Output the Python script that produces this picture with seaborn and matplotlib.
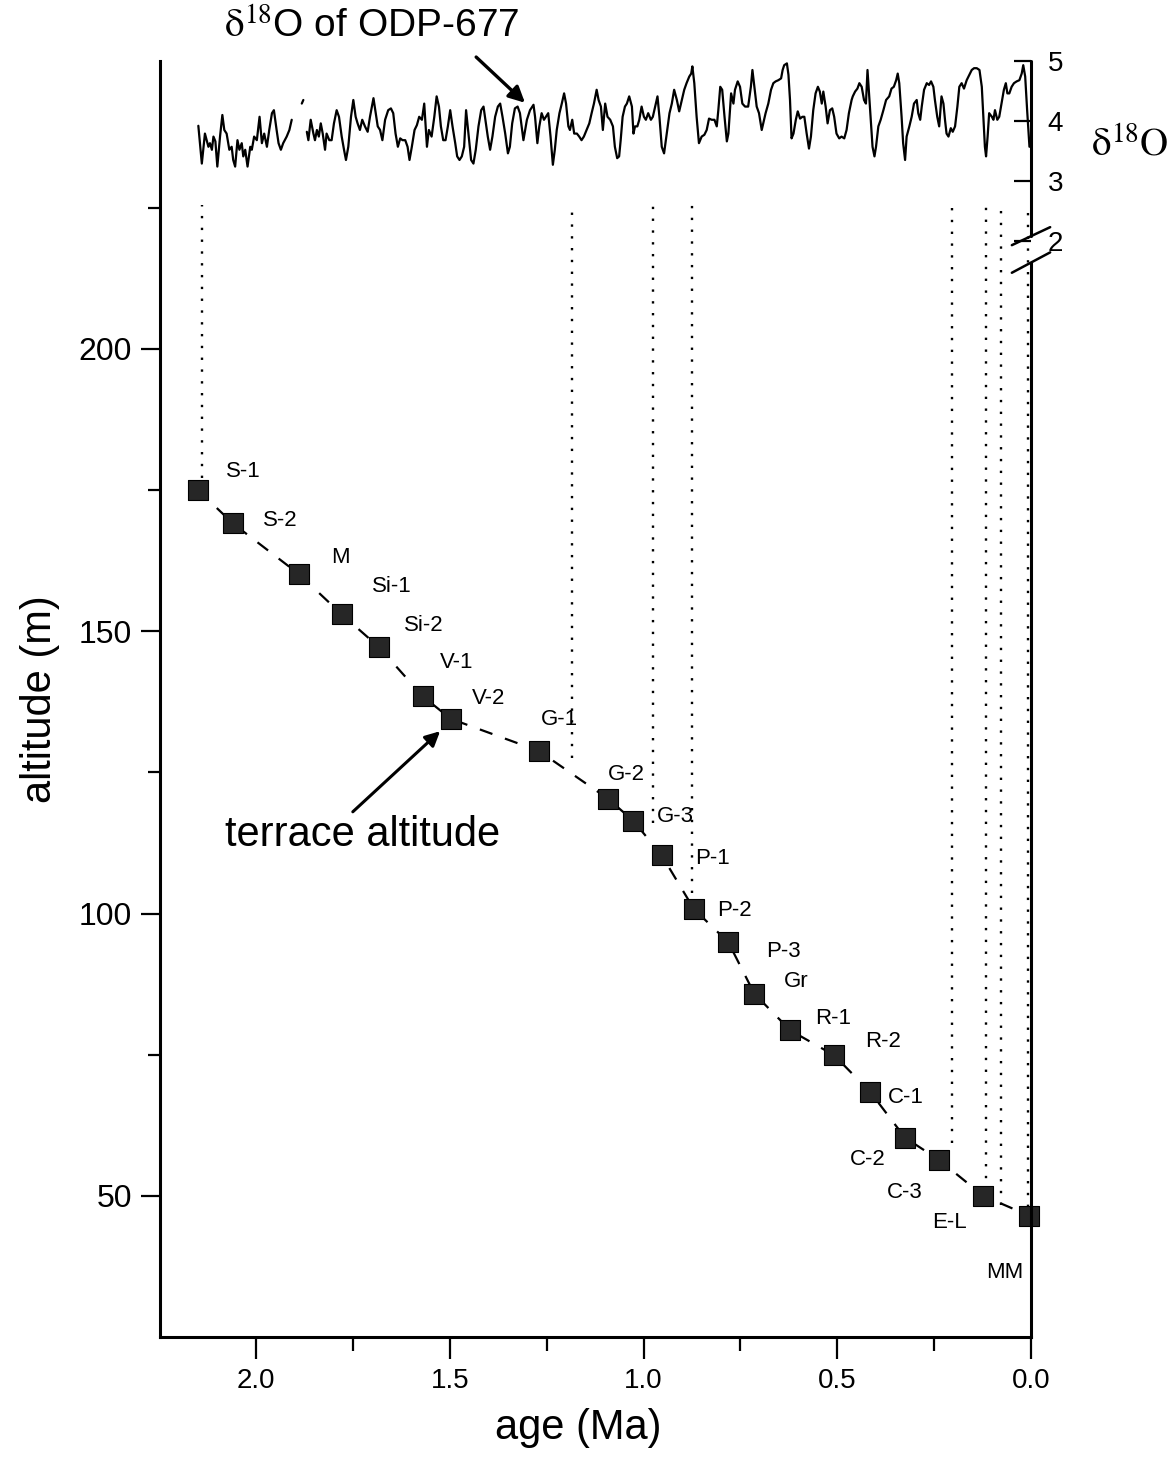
import numpy as np
import pandas as pd
import matplotlib
matplotlib.use("Agg")
import matplotlib.pyplot as plt
from matplotlib.ticker import FormatStrFormatter
import seaborn as sns

sns.set_style("ticks")
plt.rcParams['font.family'] = ['Liberation Sans', 'DejaVu Sans']
plt.rcParams['mathtext.fontset'] = 'stix'
for key in ['text.color', 'axes.labelcolor', 'xtick.color', 'ytick.color', 'axes.edgecolor']:
    plt.rcParams[key] = 'black'

# terraces: name, age (Ma), altitude (m)
terrace = ["S-1", "S-2", "M", "Si-1", "Si-2", "V-1", "V-2", "G-1", "G-2", "G-3",
           "P-1", "P-2", "P-3", "Gr", "R-1", "R-2", "C-1", "C-2", "C-3", "E-L", "MM"]
terrace_age = [2.151, 2.060, 1.889, 1.779, 1.683, 1.570, 1.498, 1.270, 1.091, 1.026,
               0.953, 0.870, 0.781, 0.714, 0.621, 0.508, 0.415, 0.325, 0.238, 0.123, 0.005]
terrace_alt = [175.1, 169.1, 160.1, 153.0, 147.2, 138.5, 134.5, 128.8, 120.3, 116.4,
               110.3, 100.8, 94.9, 85.8, 79.3, 74.9, 68.4, 60.3, 56.4, 50.0, 46.5]

# dotted correlation lines (age, lower end altitude), all start at 225.5 m
link_age = [2.140, 1.184, 0.976, 0.875, 0.205, 0.117, 0.078, 0.007]
link_bottom = [177.1, 127.6, 116.0, 103.7, 59.4, 51.1, 48.4, 48.0]
link_top = 225.5

# d18O record of ODP-677 (nan = gap in the record)
d18o_age = [2.149, 2.140, 2.132, 2.123, 2.119, 2.114, 2.110, 2.105, 2.100, 2.093,
            2.087, 2.082, 2.076, 2.069, 2.063, 2.059, 2.054, 2.048, 2.043, 2.037,
            2.033, 2.028, 2.022, 2.015, 2.011, 2.005, 1.998, 1.991, 1.985, 1.979,
            1.972, 1.966, 1.959, 1.954, 1.947, 1.942, 1.936, 1.930, 1.921, 1.914,
            1.908, np.nan, 1.882, 1.878, np.nan,
            1.869, 1.865, 1.859, 1.852, 1.848, 1.843, 1.838, 1.833, 1.828, 1.822,
            1.818, 1.811, 1.805, 1.799, 1.792, 1.786, 1.779, 1.773, 1.768, 1.762,
            1.755, 1.749, 1.743, 1.738, 1.732, 1.726, 1.719, 1.712, 1.706, 1.697,
            1.691, 1.686, 1.680, 1.674, 1.667, 1.659, 1.652, 1.646, 1.640, 1.634,
            1.628, 1.622, 1.615, 1.609, 1.604, 1.598, 1.591, 1.585, 1.579, 1.572,
            1.566, 1.559, 1.554, 1.547, 1.540, 1.534, 1.528, 1.523, 1.517, 1.511,
            1.505, 1.499, 1.493, 1.486, 1.481, 1.475, 1.469, 1.463, 1.458, 1.452,
            1.445, 1.439, 1.433, 1.426, 1.419, 1.413, 1.407, 1.402, 1.396, 1.390,
            1.383, 1.376, 1.370, 1.364, 1.357, 1.350, 1.345, 1.339, 1.332, 1.325,
            1.319, 1.310, 1.301, 1.293, 1.284, 1.280, 1.274, 1.269, 1.263, 1.257,
            1.252, 1.246, 1.240, 1.234, 1.229, 1.224, 1.217, 1.211, 1.205, 1.200,
            1.194, 1.190, 1.184, 1.179, 1.172, 1.166, 1.160, 1.154, 1.147, 1.140,
            1.134, 1.128, 1.121, 1.116, 1.110, 1.105, 1.099, 1.093, 1.086, 1.079,
            1.074, 1.068, 1.063, 1.059, 1.054, 1.048, 1.043, 1.037, 1.030, 1.026,
            1.022, 1.016, 1.011, 1.005, 0.999, 0.994, 0.988, 0.981, 0.976, 0.970,
            0.964, 0.959, 0.953, 0.947, 0.940, 0.933, 0.927, 0.921, 0.914, 0.908,
            0.901, 0.895, 0.889, 0.882, 0.877, 0.874, 0.869, 0.863, 0.857, 0.850,
            0.843, 0.837, 0.831, 0.824, 0.817, 0.811, 0.807, 0.802, 0.797, 0.791,
            0.785, 0.781, 0.774, 0.768, 0.764, 0.757, 0.751, 0.745, 0.738, 0.730,
            0.723, 0.719, 0.714, 0.708, 0.702, 0.695, 0.691, 0.685, 0.678, 0.671,
            0.665, 0.659, 0.652, 0.645, 0.641, 0.637, 0.630, 0.626, 0.622, 0.618,
            0.613, 0.607, 0.602, 0.596, 0.590, 0.585, 0.579, 0.573, 0.568, 0.562,
            0.556, 0.550, 0.545, 0.540, 0.536, 0.530, 0.525, 0.519, 0.513, 0.508,
            0.502, 0.495, 0.489, 0.482, 0.476, 0.470, 0.463, 0.460, 0.454, 0.448,
            0.443, 0.437, 0.431, 0.426, 0.422, 0.417, 0.413, 0.409, 0.404, 0.400,
            0.394, 0.388, 0.381, 0.374, 0.366, 0.360, 0.354, 0.348, 0.344, 0.340,
            0.334, 0.330, 0.325, 0.321, 0.314, 0.308, 0.302, 0.295, 0.291, 0.286,
            0.282, 0.276, 0.269, 0.263, 0.258, 0.252, 0.248, 0.242, 0.237, 0.231,
            0.226, 0.222, 0.218, 0.213, 0.207, 0.202, 0.196, 0.190, 0.185, 0.179,
            0.173, 0.166, 0.159, 0.153, 0.147, 0.140, 0.133, 0.127, 0.123, 0.119,
            0.116, 0.112, 0.108, 0.101, 0.097, 0.093, 0.087, 0.082, 0.076, 0.070,
            0.065, 0.061, 0.056, 0.050, 0.044, 0.037, 0.030, 0.024, 0.020, 0.015,
            0.010, 0.004]
d18o = [3.92, 3.29, 3.79, 3.57, 3.63, 3.52, 3.74, 3.66, 3.24, 3.74,
        4.10, 3.85, 3.79, 3.52, 3.57, 3.35, 3.24, 3.68, 3.52, 3.63,
        3.41, 3.52, 3.24, 3.57, 3.52, 3.74, 3.68, 4.07, 3.63, 3.79,
        3.57, 3.85, 4.13, 4.18, 3.85, 3.63, 3.52, 3.63, 3.74, 3.85,
        4.02, np.nan, 4.29, 4.35, np.nan,
        3.82, 3.68, 4.02, 3.79, 3.68, 3.85, 3.74, 3.96, 3.79, 3.52,
        3.79, 3.68, 3.68, 3.96, 4.18, 4.07, 3.74, 3.52, 3.35, 3.57,
        4.07, 4.35, 4.07, 3.96, 3.85, 4.02, 3.91, 3.82, 4.07, 4.38,
        4.13, 3.91, 3.85, 3.68, 4.02, 4.18, 4.21, 4.13, 3.79, 3.57,
        3.71, 3.68, 3.68, 3.57, 3.35, 3.57, 3.85, 3.93, 4.07, 4.02,
        4.29, 3.57, 3.85, 3.74, 4.07, 4.41, 4.24, 3.91, 3.68, 3.68,
        3.91, 4.18, 3.91, 3.63, 3.41, 3.35, 3.41, 3.57, 4.18, 3.79,
        3.35, 3.29, 3.52, 3.91, 4.18, 4.24, 3.96, 3.74, 3.52, 3.74,
        4.07, 4.24, 4.29, 4.07, 3.79, 3.46, 3.57, 3.96, 4.21, 4.24,
        4.13, 3.68, 4.02, 4.18, 4.27, 4.07, 3.63, 3.91, 4.13, 4.02,
        4.07, 4.13, 3.74, 3.27, 3.52, 3.85, 4.13, 4.29, 4.46, 4.29,
        3.91, 3.85, 4.02, 3.79, 3.79, 3.74, 3.68, 3.74, 3.85, 3.96,
        4.13, 4.29, 4.52, 4.35, 4.24, 3.85, 4.29, 4.07, 4.02, 3.91,
        3.57, 3.38, 3.41, 3.68, 4.07, 4.24, 4.29, 4.41, 4.24, 3.79,
        3.91, 3.91, 4.02, 4.24, 4.07, 4.02, 4.13, 4.02, 4.07, 4.24,
        4.41, 4.07, 3.57, 3.46, 3.79, 4.13, 4.29, 4.52, 4.35, 4.16,
        4.35, 4.52, 4.63, 4.74, 4.79, 4.91, 4.63, 4.07, 3.63, 3.74,
        3.77, 3.85, 4.04, 4.02, 4.02, 3.91, 4.18, 4.57, 4.52, 4.07,
        3.66, 3.79, 4.46, 4.29, 4.52, 4.66, 4.57, 4.29, 4.24, 4.24,
        4.57, 4.85, 4.57, 4.24, 4.13, 3.85, 3.96, 4.13, 4.29, 4.52,
        4.63, 4.66, 4.68, 4.71, 4.85, 4.93, 4.96, 4.77, 4.35, 3.71,
        3.79, 4.02, 4.16, 4.04, 4.07, 4.07, 3.79, 3.54, 3.74, 4.18,
        4.46, 4.57, 4.49, 4.29, 4.49, 4.24, 3.96, 4.18, 4.21, 4.07,
        3.79, 3.71, 3.74, 3.71, 3.85, 4.13, 4.35, 4.41, 4.49, 4.54,
        4.63, 4.57, 4.35, 4.29, 4.85, 4.35, 3.96, 3.57, 3.41, 3.57,
        3.91, 4.02, 4.18, 4.35, 4.41, 4.54, 4.57, 4.68, 4.79, 4.63,
        4.07, 3.63, 3.35, 3.74, 3.91, 4.07, 4.29, 4.35, 4.13, 4.02,
        4.24, 4.52, 4.63, 4.60, 4.66, 4.57, 4.35, 4.07, 3.91, 4.41,
        4.29, 4.02, 3.79, 3.74, 3.88, 3.82, 3.91, 4.24, 4.57, 4.63,
        4.54, 4.68, 4.77, 4.85, 4.88, 4.88, 4.85, 4.57, 4.07, 3.57,
        3.41, 3.74, 4.13, 4.07, 4.02, 4.18, 4.02, 4.07, 4.29, 4.52,
        4.63, 4.46, 4.46, 4.57, 4.63, 4.66, 4.68, 4.79, 4.93, 4.74,
        4.18, 3.57]

# label offsets from each square, in pixels
label_dx = [46, 47, 41, 50, 45, 34, 38, 21, 18, 42, 51, 41, 55, 42, 43, 49, 36, -37, -34, -34, -24]
label_dy = [18, 3, 17, 28, 22, 34, 20, 31, 24, 4, -3, -1, -9, 12, 12, 14, -6, -22, -33, -27, -57]

rec = pd.DataFrame({'age': d18o_age, 'd18o': d18o})
rec['seg'] = rec['d18o'].isna().cumsum()
rec = rec.dropna()

fig = plt.figure(figsize=(11.72, 14.59), dpi=100)
ax = fig.add_axes([0.1365, 0.0836, 0.7432, 0.8746])

# dotted lines linking terraces to isotope stages
ax.vlines(link_age, link_bottom, link_top, colors='k', linestyles=(0, (1, 4)), lw=1.7)

sns.lineplot(x=terrace_age, y=terrace_alt, ax=ax, color='k', lw=1.6, sort=False,
             linestyle=(0, (6, 6)))
sns.scatterplot(x=terrace_age, y=terrace_alt, ax=ax, marker='s', s=210, color='#262626',
                edgecolor='k', linewidth=0.8, zorder=3, clip_on=False)

for name, a, h, dx, dy in zip(terrace, terrace_age, terrace_alt, label_dx, label_dy):
    ax.annotate(name, (a, h), xytext=(dx, dy), textcoords='offset pixels',
                ha='center', va='center', fontsize=16)

ax.set_xlim(2.248, 0.0)
ax.set_ylim(25, 251)
ax.set_xticks([2.0, 1.5, 1.0, 0.5, 0.0])
ax.set_xticks([1.75, 1.25, 0.75, 0.25], minor=True)
ax.set_yticks([50, 100, 150, 200])
ax.set_yticks([75, 125, 175, 225], minor=True)
ax.xaxis.set_major_formatter(FormatStrFormatter('%.1f'))
ax.tick_params(axis='x', which='major', direction='out', length=16, width=1.6, labelsize=20, pad=6)
ax.tick_params(axis='x', which='minor', direction='out', length=10, width=1.6)
ax.tick_params(axis='y', which='major', direction='out', length=14, width=1.6, labelsize=23, pad=6)
ax.tick_params(axis='y', which='minor', direction='out', length=9, width=1.6)
ax.spines['top'].set_visible(False)
ax.spines['right'].set_visible(False)
ax.spines['left'].set_linewidth(2.2)
ax.spines['bottom'].set_linewidth(2.2)

ax.set_xlabel('age (Ma)', fontsize=30)
ax.set_ylabel('altitude (m)', fontsize=30)
ax.xaxis.set_label_coords(0.48, -0.056)
ax.yaxis.set_label_coords(-0.115, 0.5)

ax.annotate('terrace altitude', xy=(1.525, 132.3), xytext=(1.724, 113.9),
            fontsize=30, ha='center', va='center',
            arrowprops=dict(arrowstyle='-|>', color='k', lw=2.2, mutation_scale=22,
                            shrinkA=0, shrinkB=0, relpos=(0.45, 1.0)))

# isotope record on a twin axis
ax2 = ax.twinx()
sns.lineplot(data=rec, x='age', y='d18o', units='seg', estimator=None, sort=False,
             color='k', lw=1.6, ax=ax2)
ax2.set_ylim(-16.27, 5.0)
ax2.set_yticks([2, 3, 4, 5])
ax2.set_ylabel('')
ax2.tick_params(axis='y', direction='in', length=12, width=1.6, labelsize=20, pad=12)
for s in ['top', 'left', 'bottom']:
    ax2.spines[s].set_visible(False)
ax2.spines['right'].set_linewidth(2.2)
ax2.spines['right'].set_bounds(-16.27, 1.64)
ytr = ax2.get_yaxis_transform()
ax2.plot([1, 1], [2.08, 5.0], transform=ytr, color='k', lw=2.2, clip_on=False)
ax2.plot([0.978, 1.022], [1.93, 2.23], transform=ytr, color='k', lw=1.8, clip_on=False)
ax2.plot([0.978, 1.022], [1.47, 1.81], transform=ytr, color='k', lw=1.8, clip_on=False)

ax2.text(1.114, 3.6, r'$\mathrm{\delta}^{18}\mathrm{O}$', transform=ytr,
         ha='center', va='center', fontsize=28)
ax.text(1.703, 257.0, r'$\mathrm{\delta}^{18}$O of ODP-677', ha='center', va='center',
        fontsize=28, clip_on=False)
ax.annotate('', xy=(1.306, 243.6), xytext=(1.432, 251.7), annotation_clip=False,
            arrowprops=dict(arrowstyle='-|>', color='k', lw=2.4, mutation_scale=24,
                            shrinkA=0, shrinkB=0))

fig.savefig('out.png', dpi=100)
